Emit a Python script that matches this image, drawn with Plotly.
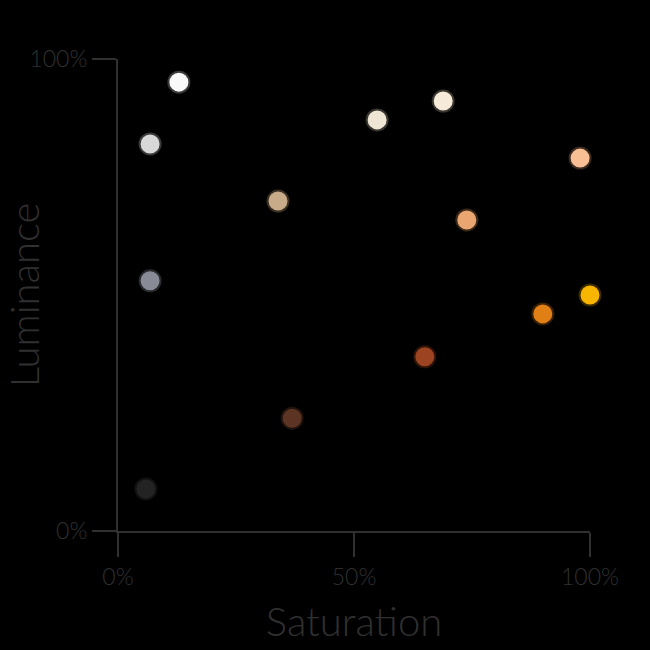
import plotly.graph_objects as go

saturation = [12.9, 6.8, 6.8, 5.9, 33.9, 36.9, 54.9, 68.9, 65.0, 73.9, 90.0, 100.0, 97.9]
luminance = [95.1, 82.0, 53.0, 8.9, 69.9, 23.9, 87.1, 91.1, 36.9, 65.9, 46.0, 50.0, 79.0]
colors = ["#f9f9f9", "#d8d8d8", "#888b96", "#232323", "#c8ab88", "#5c3424",
          "#efe5d5", "#f6ebd9", "#9c4422", "#e9a671", "#e07f15", "#f8b500", "#f8be94"]
outlines = ["#3a3a3a", "#3a3a3a", "#2a2a2e", "#111111", "#3a3022", "#20120c",
            "#3a3630", "#3a3630", "#301408", "#3a2818", "#3a2005", "#3a2a00", "#3a2a20"]

x_ticks = [0, 50, 100]
x_labels = ["0%", "50%", "100%"]
y_ticks = [0, 100]
y_labels = ["0%", "100%"]

TXT = "#303030"
FONT = "Lato"

fig = go.Figure(go.Scatter(
    x=saturation, y=luminance, mode="markers",
    marker=dict(size=21, color=colors, line=dict(color=outlines, width=2), opacity=1),
    cliponaxis=False, hoverinfo="skip",
))

fig.update_layout(
    width=650, height=650,
    paper_bgcolor="#000000", plot_bgcolor="#000000",
    margin=dict(l=118, r=60, t=59, b=119),
    showlegend=False,
    font=dict(family=FONT, color=TXT, weight=300),
)
fig.update_xaxes(
    range=[0, 100], tickmode="array", tickvals=x_ticks, ticktext=x_labels,
    showgrid=False, zeroline=False, showline=True, linecolor=TXT, linewidth=2,
    ticks="outside", ticklen=24, tickwidth=2, tickcolor=TXT, automargin=False,
    tickfont=dict(size=23, color=TXT, family=FONT, weight=300),
    title=dict(text="Saturation", font=dict(size=40, color=TXT, family=FONT, weight=300), standoff=19),
)
fig.update_yaxes(
    range=[0, 100], tickmode="array", tickvals=y_ticks, ticktext=y_labels,
    showgrid=False, zeroline=False, showline=True, linecolor=TXT, linewidth=2,
    ticks="outside", ticklen=24, tickwidth=2, tickcolor=TXT, automargin=False,
    tickfont=dict(size=23, color=TXT, family=FONT, weight=300),
    title=dict(text="Luminance", font=dict(size=40, color=TXT, family=FONT, weight=300), standoff=0),
)

post = "document.body.style.margin='0';document.body.style.background='#000';document.documentElement.style.background='#000';"
fig.write_html("out.html", post_script=post, config={"displayModeBar": False, "staticPlot": True})
